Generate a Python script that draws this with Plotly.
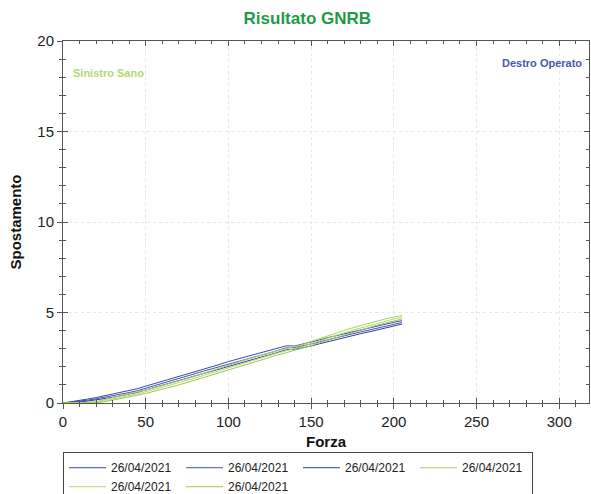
import plotly.graph_objects as go

forza = [0, 5, 10, 15, 20, 25, 30, 35, 40, 45, 50, 55, 60, 65, 70, 75, 80, 85, 90, 95, 100,
         105, 110, 115, 120, 125, 130, 135, 140, 145, 150, 155, 160, 165, 170, 175, 180,
         185, 190, 195, 200, 205]

blu1 = [0, 0.06, 0.14, 0.22, 0.3, 0.39, 0.48, 0.58, 0.68, 0.79, 0.93, 1.06, 1.19, 1.33, 1.47,
        1.6, 1.74, 1.88, 2.01, 2.14, 2.29, 2.42, 2.54, 2.65, 2.77, 2.9, 3.04, 3.16, 3.15, 3.25,
        3.36, 3.48, 3.61, 3.72, 3.84, 3.94, 4.04, 4.14, 4.26, 4.36, 4.46, 4.55]
blu2 = [0, 0.04, 0.1, 0.16, 0.23, 0.31, 0.39, 0.49, 0.58, 0.68, 0.82, 0.95, 1.08, 1.22, 1.36,
        1.49, 1.62, 1.76, 1.89, 2.02, 2.17, 2.3, 2.42, 2.53, 2.65, 2.77, 2.92, 3.05, 3.06, 3.15,
        3.25, 3.37, 3.49, 3.61, 3.73, 3.83, 3.93, 4.03, 4.14, 4.25, 4.35, 4.45]
blu3 = [0, 0.02, 0.06, 0.11, 0.17, 0.24, 0.31, 0.4, 0.49, 0.59, 0.72, 0.85, 0.98, 1.11, 1.25,
        1.38, 1.51, 1.65, 1.78, 1.91, 2.06, 2.19, 2.31, 2.43, 2.54, 2.66, 2.8, 2.94, 2.97, 3.05,
        3.15, 3.27, 3.39, 3.51, 3.63, 3.73, 3.83, 3.93, 4.04, 4.15, 4.25, 4.36]

verde1 = [0, 0, 0, 0.03, 0.08, 0.18, 0.28, 0.38, 0.49, 0.6, 0.72, 0.84, 0.96, 1.08, 1.21,
          1.35, 1.49, 1.63, 1.78, 1.93, 2.08, 2.23, 2.38, 2.52, 2.65, 2.78, 2.9, 3.01, 3.11, 3.23,
          3.4, 3.56, 3.7, 3.85, 4.01, 4.15, 4.28, 4.41, 4.54, 4.65, 4.75, 4.83]
verde2 = [0, 0, 0, 0.01, 0.04, 0.12, 0.21, 0.31, 0.41, 0.51, 0.62, 0.74, 0.86, 0.98, 1.1,
          1.24, 1.38, 1.52, 1.66, 1.8, 1.95, 2.1, 2.25, 2.39, 2.52, 2.65, 2.77, 2.89, 3.0, 3.12,
          3.28, 3.44, 3.58, 3.72, 3.88, 4.02, 4.15, 4.28, 4.41, 4.53, 4.64, 4.74]
verde3 = [0, 0, 0, 0, 0.01, 0.07, 0.15, 0.24, 0.33, 0.43, 0.53, 0.64, 0.76, 0.88, 1.0,
          1.13, 1.27, 1.41, 1.55, 1.69, 1.83, 1.98, 2.13, 2.27, 2.41, 2.54, 2.66, 2.78, 2.9, 3.02,
          3.17, 3.33, 3.47, 3.61, 3.77, 3.91, 4.04, 4.17, 4.3, 4.42, 4.53, 4.64]

serie = [blu1, blu2, blu3, verde1, verde2, verde3]
nomi = ["26/04/2021"] * 6
colori = ["#3a47a6", "#4452b0", "#2f3d9c", "#a9d15e", "#b3d970", "#9cc94f"]

x_ticks = [0, 50, 100, 150, 200, 250, 300]
y_ticks = [0, 5, 10, 15, 20]

FONT = "Liberation Sans, Arial, sans-serif"
AX = "#555555"

fig = go.Figure()
for ys, nome, col in zip(serie, nomi, colori):
    fig.add_trace(go.Scatter(x=forza, y=ys, mode="lines", name=nome,
                             line=dict(color=col, width=1)))

# helper (invisible) trace so that the overlay axes (inner tick halves) are drawn
fig.add_trace(go.Scatter(x=[0], y=[0], xaxis="x2", yaxis="y2", mode="markers",
                         marker=dict(opacity=0), showlegend=False, hoverinfo="skip"))

axis_font = dict(family=FONT, size=15, color="#222222")
common = dict(showline=True, linecolor=AX, linewidth=1, mirror=True,
              ticks="outside", ticklen=5, tickcolor=AX, tickfont=axis_font,
              showgrid=True, gridcolor="#e6e6e6", griddash="dot", gridwidth=1,
              zeroline=False)
overlay = dict(ticks="inside", ticklen=5, tickcolor=AX, mirror="allticks",
               showticklabels=False, showline=True, linecolor=AX, showgrid=False, zeroline=False)

fig.update_layout(
    width=591, height=494,
    paper_bgcolor="white", plot_bgcolor="white",
    margin=dict(l=63, r=2, t=41, b=91, autoexpand=False),
    title=dict(text="<b>Risultato GNRB</b>", x=0.52, xanchor="center", y=0.963, yanchor="middle",
               font=dict(family=FONT, size=17, color="#1f9a48")),
    xaxis=dict(range=[0, 318], tickvals=x_ticks, **common,
               minor=dict(dtick=10, ticks="outside", ticklen=3, tickcolor=AX, showgrid=False),
               title=dict(text="<b>Forza</b>", standoff=7,
                          font=dict(family=FONT, size=15, color="#111111"))),
    yaxis=dict(range=[0, 20], tickvals=y_ticks, **common,
               minor=dict(dtick=1, ticks="outside", ticklen=3, tickcolor=AX, showgrid=False),
               title=dict(text="<b>Spostamento</b>", standoff=12,
                          font=dict(family=FONT, size=15, color="#111111"))),
    xaxis2=dict(range=[0, 318], overlaying="x", anchor="y2", side="bottom",
                tickvals=x_ticks, **overlay,
                minor=dict(dtick=10, ticks="inside", ticklen=3, tickcolor=AX, showgrid=False)),
    yaxis2=dict(range=[0, 20], overlaying="y", anchor="x2", side="left",
                tickvals=y_ticks, **overlay,
                minor=dict(dtick=1, ticks="inside", ticklen=3, tickcolor=AX, showgrid=False)),
    legend=dict(orientation="h", x=0, xanchor="left", y=-0.136, yanchor="top",
                entrywidth=65, entrywidthmode="pixels", itemwidth=37,
                bordercolor="#444444", borderwidth=1, bgcolor="white",
                font=dict(family=FONT, size=12, color="#222222"),
                tracegroupgap=0),
    showlegend=True,
)

fig.add_annotation(text="<b>Sinistro Sano</b>", xref="paper", yref="paper", x=0.015, y=0.912,
                   xanchor="left", yanchor="middle", showarrow=False,
                   font=dict(family=FONT, size=11, color="#b5d872"))
fig.add_annotation(text="<b>Destro Operato</b>", xref="paper", yref="paper", x=0.991, y=0.94,
                   xanchor="right", yanchor="middle", showarrow=False,
                   font=dict(family=FONT, size=11, color="#4a57b3"))

fig.write_html("out.html", config={"displayModeBar": False},
               post_script="document.body.style.margin='0';")
